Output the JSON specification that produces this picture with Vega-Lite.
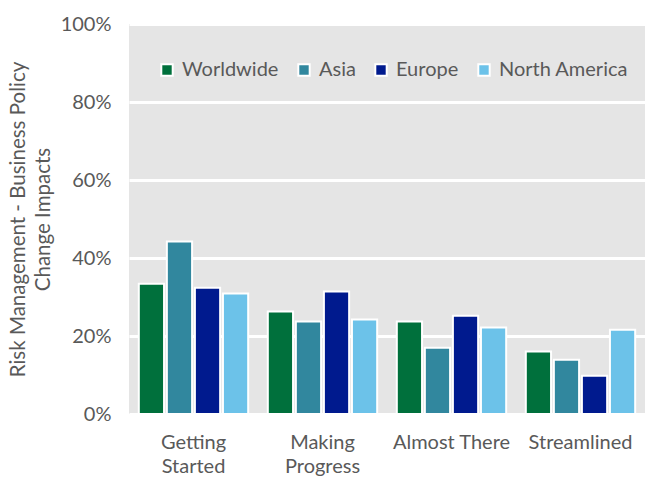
{
  "$schema": "https://vega.github.io/schema/vega-lite/v6.json",
  "autosize": "none",
  "width": 516,
  "height": 390,
  "padding": {"left": 129, "top": 24, "right": 14, "bottom": 63},
  "background": "white",
  "config": {
    "font": "Lato",
    "view": {"fill": "#e5e5e5", "stroke": null},
    "axis": {"labelColor": "#595959", "titleColor": "#595959", "labelFont": "Lato", "titleFont": "Lato"}
  },
  "data": {
    "values": [
      {"stage": "Getting Started", "region": "Worldwide", "value": 0.334},
      {"stage": "Getting Started", "region": "Asia", "value": 0.442},
      {"stage": "Getting Started", "region": "Europe", "value": 0.324},
      {"stage": "Getting Started", "region": "North America", "value": 0.309},
      {"stage": "Making Progress", "region": "Worldwide", "value": 0.263},
      {"stage": "Making Progress", "region": "Asia", "value": 0.237},
      {"stage": "Making Progress", "region": "Europe", "value": 0.314},
      {"stage": "Making Progress", "region": "North America", "value": 0.242},
      {"stage": "Almost There", "region": "Worldwide", "value": 0.237},
      {"stage": "Almost There", "region": "Asia", "value": 0.170},
      {"stage": "Almost There", "region": "Europe", "value": 0.252},
      {"stage": "Almost There", "region": "North America", "value": 0.222},
      {"stage": "Streamlined", "region": "Worldwide", "value": 0.160},
      {"stage": "Streamlined", "region": "Asia", "value": 0.139},
      {"stage": "Streamlined", "region": "Europe", "value": 0.098},
      {"stage": "Streamlined", "region": "North America", "value": 0.216}
    ]
  },
  "mark": {"type": "bar", "stroke": "white", "strokeWidth": 2},
  "encoding": {
    "x": {
      "field": "stage",
      "type": "nominal",
      "sort": ["Getting Started", "Making Progress", "Almost There", "Streamlined"],
      "scale": {"paddingInner": 0, "paddingOuter": 0},
      "axis": {
        "title": null,
        "domain": false,
        "ticks": false,
        "labelAngle": 0,
        "labelFontSize": 20,
        "labelPadding": 18,
        "labelLineHeight": 24,
        "labelExpr": "datum.label == 'Getting Started' ? ['Getting', 'Started'] : datum.label == 'Making Progress' ? ['Making', 'Progress'] : datum.label"
      }
    },
    "xOffset": {
      "field": "region",
      "type": "nominal",
      "sort": ["Worldwide", "Asia", "Europe", "North America"],
      "scale": {"paddingInner": 0.1, "paddingOuter": 0.35}
    },
    "y": {
      "field": "value",
      "type": "quantitative",
      "scale": {"domain": [0, 1]},
      "axis": {
        "format": ".0%",
        "values": [0, 0.2, 0.4, 0.6, 0.8, 1],
        "labelOverlap": false,
        "labelBound": false,
        "labelFlush": false,
        "domain": false,
        "ticks": false,
        "gridColor": "white",
        "gridWidth": 3,
        "gridOpacity": 1,
        "labelFontSize": 20,
        "labelPadding": 18,
        "title": ["Risk Management - Business Policy", "Change Impacts"],
        "titleFontSize": 20.5,
        "titleFontWeight": "normal",
        "titleLineHeight": 25,
        "titlePadding": 7
      }
    },
    "color": {
      "field": "region",
      "type": "nominal",
      "sort": ["Worldwide", "Asia", "Europe", "North America"],
      "scale": {
        "domain": ["Worldwide", "Asia", "Europe", "North America"],
        "range": ["#00703c", "#31879e", "#001a8e", "#6cc2e9"]
      },
      "legend": {
        "title": null,
        "orient": "none",
        "direction": "horizontal",
        "legendX": 28,
        "legendY": 36,
        "symbolType": "square",
        "symbolSize": 130,
        "symbolStrokeColor": "white",
        "symbolStrokeWidth": 2,
        "labelFontSize": 20,
        "labelColor": "#595959",
        "labelOffset": 5,
        "columnPadding": 15
      }
    }
  }
}
